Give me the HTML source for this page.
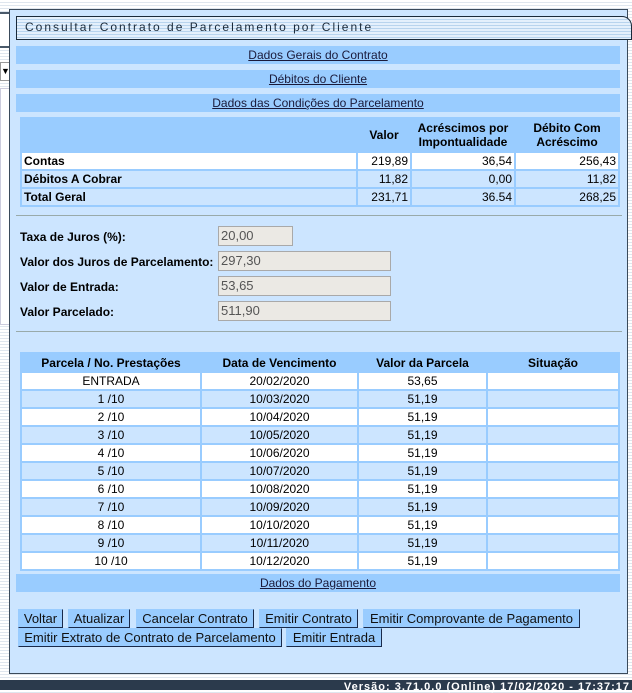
<!DOCTYPE html>
<html><head><meta charset="utf-8"><style>
*{margin:0;padding:0;box-sizing:border-box}
body{width:632px;height:690px;overflow:hidden;position:relative;font-family:"Liberation Sans",Arial,sans-serif;font-size:12px;color:#000;
background:repeating-linear-gradient(#fff 0 2px,#dfe6ee 2px 3px)}
.a{position:absolute}
#panel{left:9px;top:9px;width:619px;height:665px;background:#cce5ff;border:1px solid #3a4a5a}
.bar{position:absolute;left:16px;width:604px;height:18px;background:#99ccff;text-align:center;line-height:18px;text-decoration:underline;color:#1a1a3a}
table{border-collapse:separate;border-spacing:2px;position:absolute;background:#99ccff}
td{height:16px;padding:0 2px;font-size:12px}
.w td{background:#fff}
.l td{background:#cce5ff}
.r{text-align:right}
.c{text-align:center}
th{font-size:12px;font-weight:bold}
.lab{position:absolute;left:20px;font-weight:bold;font-size:12px}
.inp{position:absolute;left:218px;height:20px;background:#ebe9e4;border:1px solid #a9a9a9;color:#555;font-size:13px;padding-left:2px;line-height:18px}
.btn{position:absolute;height:19px;background:#99ccff;border:1px solid #99ccff;border-right:1px solid #1a2a4a;border-bottom:1px solid #1a2a4a;font-size:13px;line-height:17px;text-align:center;color:#111}
hr{position:absolute;left:16px;width:606px;border:0;border-top:1px solid #9aa;height:0}
</style></head><body>
<div class="a" style="left:0;top:12px;width:17px;height:36px;border:2px solid #4a5a6a;border-left:0;background:#fff"></div>
<div class="a" style="left:0;top:62px;width:13px;height:19px;background:#fff;border:1px solid #999;font-size:9px;line-height:17px">▼</div>
<div class="a" style="left:0;top:88px;width:11px;height:237px;background:#fff;border:1px solid #ccd"></div>
<div id="panel" class="a"></div>
<div class="a" style="left:16px;top:16px;width:616px;height:24px;border:1px solid #1a2a3a;border-radius:0 10px 0 0;background:repeating-linear-gradient(#e4f0fc 0 2px,#b8d4ee 2px 3px)"></div>
<div class="a" style="left:25px;top:20px;font-size:12px;letter-spacing:2px;color:#1a2a3a">Consultar Contrato de Parcelamento por Cliente</div>
<div class="bar" style="top:46px">Dados Gerais do Contrato</div>
<div class="bar" style="top:70px">Débitos do Cliente</div>
<div class="bar" style="top:94px">Dados das Condições do Parcelamento</div>
<table style="left:20px;top:117px;width:600px">
<tr style="background:#99ccff;height:32px"><th style="width:334px"></th><th style="width:52px">Valor</th><th style="width:102px">Acréscimos por<br>Impontualidade</th><th>Débito Com<br>Acréscimo</th></tr>
<tr class="w"><td style="font-weight:bold">Contas</td><td class="r">219,89</td><td class="r">36,54</td><td class="r">256,43</td></tr>
<tr class="l"><td style="font-weight:bold">Débitos A Cobrar</td><td class="r">11,82</td><td class="r">0,00</td><td class="r">11,82</td></tr>
<tr class="l"><td style="font-weight:bold">Total Geral</td><td class="r">231,71</td><td class="r">36.54</td><td class="r">268,25</td></tr>
</table>
<hr style="top:215px">
<div class="lab" style="top:230px">Taxa de Juros (%):</div><div class="inp" style="top:226px;width:75px">20,00</div>
<div class="lab" style="top:255px">Valor dos Juros de Parcelamento:</div><div class="inp" style="top:251px;width:173px">297,30</div>
<div class="lab" style="top:280px">Valor de Entrada:</div><div class="inp" style="top:276px;width:173px">53,65</div>
<div class="lab" style="top:305px">Valor Parcelado:</div><div class="inp" style="top:301px;width:173px">511,90</div>
<hr style="top:331px">
<table style="left:20px;top:352px;width:600px">
<tr style="background:#99ccff;height:17px"><th style="width:178px">Parcela / No. Prestações</th><th style="width:155px">Data de Vencimento</th><th style="width:127px">Valor da Parcela</th><th>Situação</th></tr>
<tr class="w c"><td>ENTRADA</td><td>20/02/2020</td><td>53,65</td><td></td></tr>
<tr class="l c"><td>1 /10</td><td>10/03/2020</td><td>51,19</td><td></td></tr>
<tr class="w c"><td>2 /10</td><td>10/04/2020</td><td>51,19</td><td></td></tr>
<tr class="l c"><td>3 /10</td><td>10/05/2020</td><td>51,19</td><td></td></tr>
<tr class="w c"><td>4 /10</td><td>10/06/2020</td><td>51,19</td><td></td></tr>
<tr class="l c"><td>5 /10</td><td>10/07/2020</td><td>51,19</td><td></td></tr>
<tr class="w c"><td>6 /10</td><td>10/08/2020</td><td>51,19</td><td></td></tr>
<tr class="l c"><td>7 /10</td><td>10/09/2020</td><td>51,19</td><td></td></tr>
<tr class="w c"><td>8 /10</td><td>10/10/2020</td><td>51,19</td><td></td></tr>
<tr class="l c"><td>9 /10</td><td>10/11/2020</td><td>51,19</td><td></td></tr>
<tr class="w c"><td>10 /10</td><td>10/12/2020</td><td>51,19</td><td></td></tr>
</table>
<div class="bar" style="top:574px">Dados do Pagamento</div>
<div class="btn" style="left:18px;top:609px;width:45px">Voltar</div>
<div class="btn" style="left:68px;top:609px;width:62px">Atualizar</div>
<div class="btn" style="left:136px;top:609px;width:118px">Cancelar Contrato</div>
<div class="btn" style="left:259px;top:609px;width:99px">Emitir Contrato</div>
<div class="btn" style="left:363px;top:609px;width:217px">Emitir Comprovante de Pagamento</div>
<div class="btn" style="left:18px;top:628px;width:264px">Emitir Extrato de Contrato de Parcelamento</div>
<div class="btn" style="left:286px;top:628px;width:96px">Emitir Entrada</div>
<div class="a" style="left:0;top:680px;width:632px;height:10px;background:#2b3a4c;overflow:hidden"></div>
<div class="a" style="right:2px;top:681px;color:#fff;font-size:11px;font-weight:bold;letter-spacing:1px;line-height:12px;white-space:nowrap">Versão: 3.71.0.0 (Online) 17/02/2020 - 17:37:17</div>
</body></html>
